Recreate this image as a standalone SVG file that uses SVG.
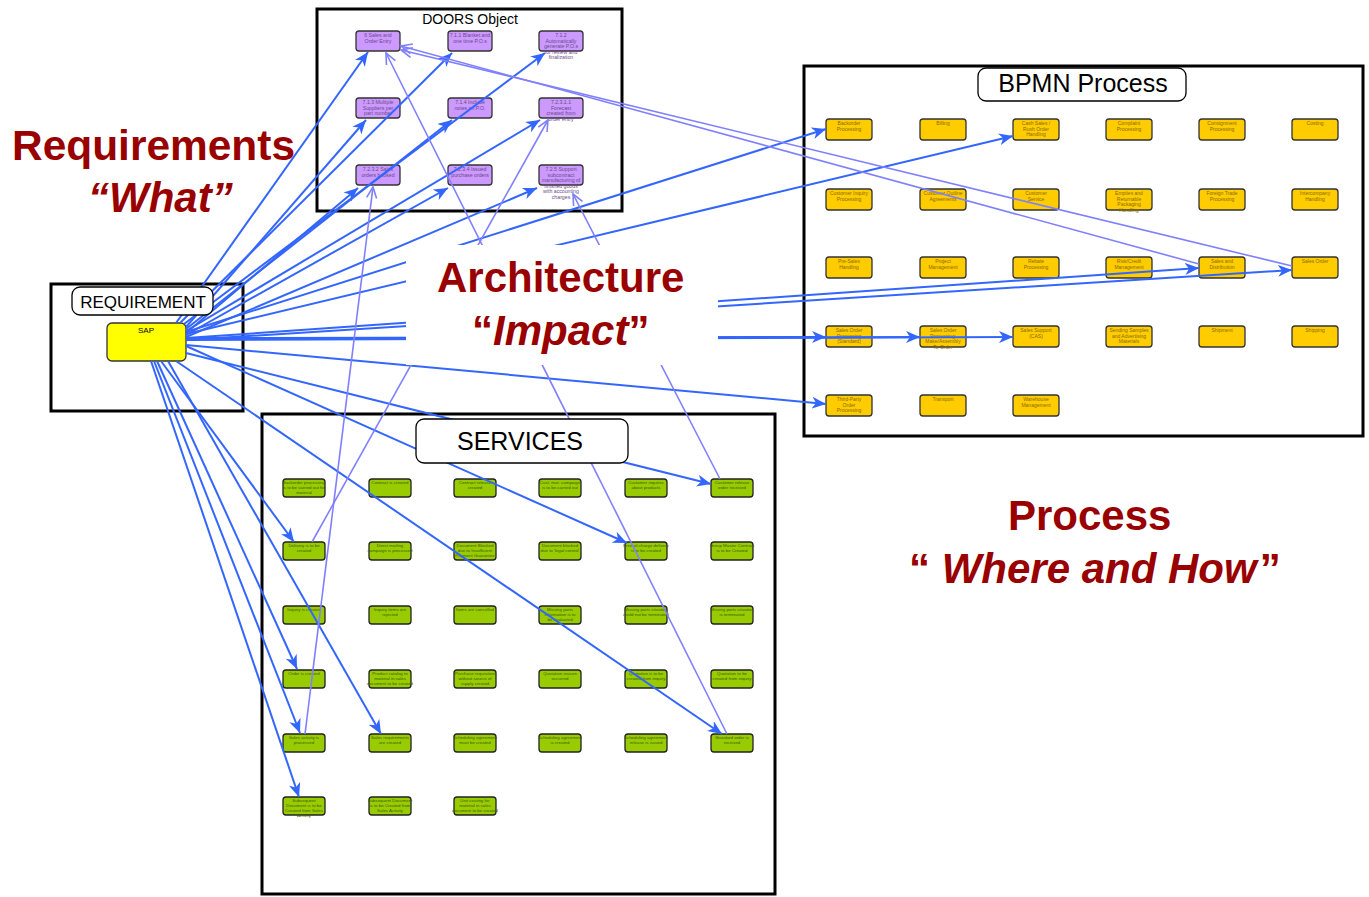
<svg xmlns="http://www.w3.org/2000/svg" width="1369" height="897" viewBox="0 0 1369 897">
<style>
.frame{fill:none;stroke:#000;stroke-width:3}
.title{fill:#fff;stroke:#000;stroke-width:1.3}
.tt{font-family:"Liberation Sans",Arial,sans-serif;fill:#000;text-anchor:middle}
.pn{fill:#CC99FF;stroke:#333;stroke-width:1.3}
.yn{fill:#FFCC00;stroke:#333;stroke-width:1.3}
.gn{fill:#99CC00;stroke:#222;stroke-width:1.3}
.pt{font-family:"Liberation Sans",Arial,sans-serif;font-size:5.2px;fill:#6a4a8a;text-anchor:middle}
.yt{font-family:"Liberation Sans",Arial,sans-serif;font-size:5px;fill:#8a6a00;text-anchor:middle}
.gt{font-family:"Liberation Sans",Arial,sans-serif;font-size:4.4px;fill:#3d5a00;text-anchor:middle}
.blue{fill:none;stroke:#3366FF;stroke-width:2;marker-end:url(#ab)}
.lav{fill:none;stroke:#8080FF;stroke-width:1.6;marker-end:url(#al)}
.big{font-family:"Liberation Sans",Arial,sans-serif;font-weight:bold;font-size:42px;fill:#990000}
</style>
<defs>
<marker id="ab" markerUnits="userSpaceOnUse" markerWidth="16" markerHeight="12" refX="14" refY="6" orient="auto"><path d="M0,0 L14,6 L0,12 L4,6 Z" fill="#3366FF"/></marker>
<marker id="al" markerUnits="userSpaceOnUse" markerWidth="14" markerHeight="12" refX="12" refY="6" orient="auto"><path d="M1,1 L12,6 L1,11" fill="none" stroke="#8080FF" stroke-width="1.6"/></marker>
</defs>
<rect width="1369" height="897" fill="#fff"/>

<!-- containers -->
<g id="doors">
<rect class="frame" x="317" y="9" width="305" height="202"/>
<text class="tt" x="470" y="24" font-size="14">DOORS Object</text>
</g>
<g id="bpmn">
<rect class="frame" x="804" y="66" width="559" height="370"/>
<rect class="title" x="978" y="68" width="208" height="33" rx="8"/>
<text class="tt" x="1083" y="92" font-size="25">BPMN Process</text>
</g>
<g id="requirement">
<rect class="frame" x="51" y="284" width="192" height="127"/>
</g>
<g id="services">
<rect class="frame" x="262" y="414" width="513" height="480"/>
</g>

<!-- SAP -->
<g id="sap">
<rect x="107" y="323" width="79" height="38" rx="5" fill="#FFFF00" stroke="#333" stroke-width="1.3"/>
<text class="tt" x="146" y="333" font-size="8">SAP</text>
</g>

<!-- DOORS nodes -->
<g id="d1"><rect class="pn" x="356" y="31" width="44" height="20" rx="3"/><text class="pt"><tspan x="378" y="37">6 Sales and</tspan><tspan x="378" y="42.5">Order Entry</tspan></text></g>
<g id="d2"><rect class="pn" x="448" y="31" width="44" height="20" rx="3"/><text class="pt"><tspan x="470" y="37">7.1.1 Blanket and</tspan><tspan x="470" y="42.5">one time P.O.s</tspan></text></g>
<g id="d3"><rect class="pn" x="539" y="31" width="44" height="20" rx="3"/><text class="pt"><tspan x="561" y="37">7.1.2</tspan><tspan x="561" y="42.5">Automatically</tspan><tspan x="561" y="48">generate P.O.s</tspan><tspan x="561" y="53.5">for review and</tspan><tspan x="561" y="59">finalization</tspan></text></g>
<g id="d4"><rect class="pn" x="356" y="98" width="44" height="20" rx="3"/><text class="pt"><tspan x="378" y="104">7.1.3 Multiple</tspan><tspan x="378" y="109.5">Suppliers per</tspan><tspan x="378" y="115">part number</tspan></text></g>
<g id="d5"><rect class="pn" x="448" y="98" width="44" height="20" rx="3"/><text class="pt"><tspan x="470" y="104">7.1.4 Include</tspan><tspan x="470" y="109.5">notes on P.O.</tspan></text></g>
<g id="d6"><rect class="pn" x="539" y="98" width="44" height="20" rx="3"/><text class="pt"><tspan x="561" y="104">7.2.3.1.1</tspan><tspan x="561" y="109.5">Forecast</tspan><tspan x="561" y="115">created from</tspan><tspan x="561" y="120.5">order entry</tspan></text></g>
<g id="d7"><rect class="pn" x="356" y="165" width="44" height="20" rx="3"/><text class="pt"><tspan x="378" y="171">7.2.3.2 Sales</tspan><tspan x="378" y="176.5">orders booked</tspan></text></g>
<g id="d8"><rect class="pn" x="448" y="165" width="44" height="20" rx="3"/><text class="pt"><tspan x="470" y="171">7.2.3.4 Issued</tspan><tspan x="470" y="176.5">purchase orders</tspan></text></g>
<g id="d9"><rect class="pn" x="539" y="165" width="44" height="20" rx="3"/><text class="pt"><tspan x="561" y="171">7.2.5 Support</tspan><tspan x="561" y="176.5">subcontract</tspan><tspan x="561" y="182">manufacturing of</tspan><tspan x="561" y="187.5">finished goods</tspan><tspan x="561" y="193">with accounting</tspan><tspan x="561" y="198.5">charges</tspan></text></g>

<!-- BPMN nodes -->
<g id="b1"><rect class="yn" x="826" y="119" width="46" height="21" rx="3"/><text class="yt"><tspan x="849" y="125">Backorder</tspan><tspan x="849" y="130.5">Processing</tspan></text></g>
<g id="b2"><rect class="yn" x="920" y="119" width="46" height="21" rx="3"/><text class="yt"><tspan x="943" y="125">Billing</tspan></text></g>
<g id="b3"><rect class="yn" x="1013" y="119" width="46" height="21" rx="3"/><text class="yt"><tspan x="1036" y="125">Cash Sales /</tspan><tspan x="1036" y="130.5">Rush Order</tspan><tspan x="1036" y="136">Handling</tspan></text></g>
<g id="b4"><rect class="yn" x="1106" y="119" width="46" height="21" rx="3"/><text class="yt"><tspan x="1129" y="125">Complaint</tspan><tspan x="1129" y="130.5">Processing</tspan></text></g>
<g id="b5"><rect class="yn" x="1199" y="119" width="46" height="21" rx="3"/><text class="yt"><tspan x="1222" y="125">Consignment</tspan><tspan x="1222" y="130.5">Processing</tspan></text></g>
<g id="b6"><rect class="yn" x="1292" y="119" width="46" height="21" rx="3"/><text class="yt"><tspan x="1315" y="125">Costing</tspan></text></g>
<g id="b7"><rect class="yn" x="826" y="189" width="46" height="21" rx="3"/><text class="yt"><tspan x="849" y="195">Customer Inquiry</tspan><tspan x="849" y="200.5">Processing</tspan></text></g>
<g id="b8"><rect class="yn" x="920" y="189" width="46" height="21" rx="3"/><text class="yt"><tspan x="943" y="195">Customer Outline</tspan><tspan x="943" y="200.5">Agreements</tspan></text></g>
<g id="b9"><rect class="yn" x="1013" y="189" width="46" height="21" rx="3"/><text class="yt"><tspan x="1036" y="195">Customer</tspan><tspan x="1036" y="200.5">Service</tspan></text></g>
<g id="b10"><rect class="yn" x="1106" y="189" width="46" height="21" rx="3"/><text class="yt"><tspan x="1129" y="195">Empties and</tspan><tspan x="1129" y="200.5">Returnable</tspan><tspan x="1129" y="206">Packaging</tspan><tspan x="1129" y="211.5">Handling</tspan></text></g>
<g id="b11"><rect class="yn" x="1199" y="189" width="46" height="21" rx="3"/><text class="yt"><tspan x="1222" y="195">Foreign Trade</tspan><tspan x="1222" y="200.5">Processing</tspan></text></g>
<g id="b12"><rect class="yn" x="1292" y="189" width="46" height="21" rx="3"/><text class="yt"><tspan x="1315" y="195">Intercompany</tspan><tspan x="1315" y="200.5">Handling</tspan></text></g>
<g id="b13"><rect class="yn" x="826" y="257" width="46" height="21" rx="3"/><text class="yt"><tspan x="849" y="263">Pre-Sales</tspan><tspan x="849" y="268.5">Handling</tspan></text></g>
<g id="b14"><rect class="yn" x="920" y="257" width="46" height="21" rx="3"/><text class="yt"><tspan x="943" y="263">Project</tspan><tspan x="943" y="268.5">Management</tspan></text></g>
<g id="b15"><rect class="yn" x="1013" y="257" width="46" height="21" rx="3"/><text class="yt"><tspan x="1036" y="263">Rebate</tspan><tspan x="1036" y="268.5">Processing</tspan></text></g>
<g id="b16"><rect class="yn" x="1106" y="257" width="46" height="21" rx="3"/><text class="yt"><tspan x="1129" y="263">Risk/Credit</tspan><tspan x="1129" y="268.5">Management</tspan></text></g>
<g id="b17"><rect class="yn" x="1199" y="257" width="46" height="21" rx="3"/><text class="yt"><tspan x="1222" y="263">Sales and</tspan><tspan x="1222" y="268.5">Distribution</tspan></text></g>
<g id="b18"><rect class="yn" x="1292" y="257" width="46" height="21" rx="3"/><text class="yt"><tspan x="1315" y="263">Sales Order</tspan></text></g>
<g id="b19"><rect class="yn" x="826" y="326" width="46" height="21" rx="3"/><text class="yt"><tspan x="849" y="332">Sales Order</tspan><tspan x="849" y="337.5">Processing</tspan><tspan x="849" y="343">(Standard)</tspan></text></g>
<g id="b20"><rect class="yn" x="920" y="326" width="46" height="21" rx="3"/><text class="yt"><tspan x="943" y="332">Sales Order</tspan><tspan x="943" y="337.5">Processing:</tspan><tspan x="943" y="343">Make/Assembly</tspan><tspan x="943" y="348.5">To Order</tspan></text></g>
<g id="b21"><rect class="yn" x="1013" y="326" width="46" height="21" rx="3"/><text class="yt"><tspan x="1036" y="332">Sales Support</tspan><tspan x="1036" y="337.5">(CAS)</tspan></text></g>
<g id="b22"><rect class="yn" x="1106" y="326" width="46" height="21" rx="3"/><text class="yt"><tspan x="1129" y="332">Sending Samples</tspan><tspan x="1129" y="337.5">and Advertising</tspan><tspan x="1129" y="343">Materials</tspan></text></g>
<g id="b23"><rect class="yn" x="1199" y="326" width="46" height="21" rx="3"/><text class="yt"><tspan x="1222" y="332">Shipment</tspan></text></g>
<g id="b24"><rect class="yn" x="1292" y="326" width="46" height="21" rx="3"/><text class="yt"><tspan x="1315" y="332">Shipping</tspan></text></g>
<g id="b25"><rect class="yn" x="826" y="395" width="46" height="21" rx="3"/><text class="yt"><tspan x="849" y="401">Third-Party</tspan><tspan x="849" y="406.5">Order</tspan><tspan x="849" y="412">Processing</tspan></text></g>
<g id="b26"><rect class="yn" x="920" y="395" width="46" height="21" rx="3"/><text class="yt"><tspan x="943" y="401">Transport</tspan></text></g>
<g id="b27"><rect class="yn" x="1013" y="395" width="46" height="21" rx="3"/><text class="yt"><tspan x="1036" y="401">Warehouse</tspan><tspan x="1036" y="406.5">Management</tspan></text></g>

<!-- SERVICES nodes -->
<g id="s1"><rect class="gn" x="283" y="479" width="42" height="18" rx="3"/><text class="gt"><tspan x="304" y="484">Backorder processing</tspan><tspan x="304" y="489">is to be carried out for</tspan><tspan x="304" y="494">material</tspan></text></g>
<g id="s2"><rect class="gn" x="369" y="479" width="42" height="18" rx="3"/><text class="gt"><tspan x="390" y="484">Contract is created</tspan></text></g>
<g id="s3"><rect class="gn" x="454" y="479" width="42" height="18" rx="3"/><text class="gt"><tspan x="475" y="484">Contract release</tspan><tspan x="475" y="489">created</tspan></text></g>
<g id="s4"><rect class="gn" x="539" y="479" width="42" height="18" rx="3"/><text class="gt"><tspan x="560" y="484">Cust. mat. campaign</tspan><tspan x="560" y="489">is to be carried out</tspan></text></g>
<g id="s5"><rect class="gn" x="625" y="479" width="42" height="18" rx="3"/><text class="gt"><tspan x="646" y="484">Customer inquires</tspan><tspan x="646" y="489">about products</tspan></text></g>
<g id="s6"><rect class="gn" x="711" y="479" width="42" height="18" rx="3"/><text class="gt"><tspan x="732" y="484">Customer release</tspan><tspan x="732" y="489">order received</tspan></text></g>
<g id="s7"><rect class="gn" x="283" y="542" width="42" height="18" rx="3"/><text class="gt"><tspan x="304" y="547">Delivery is to be</tspan><tspan x="304" y="552">created</tspan></text></g>
<g id="s8"><rect class="gn" x="369" y="542" width="42" height="18" rx="3"/><text class="gt"><tspan x="390" y="547">Direct mailing</tspan><tspan x="390" y="552">campaign is processed</tspan></text></g>
<g id="s9"><rect class="gn" x="454" y="542" width="42" height="18" rx="3"/><text class="gt"><tspan x="475" y="547">Document Blocked</tspan><tspan x="475" y="552">due to Insufficient</tspan><tspan x="475" y="557">Payment Guarantee</tspan></text></g>
<g id="s10"><rect class="gn" x="539" y="542" width="42" height="18" rx="3"/><text class="gt"><tspan x="560" y="547">Document blocked</tspan><tspan x="560" y="552">due to 'legal control'</tspan></text></g>
<g id="s11"><rect class="gn" x="625" y="542" width="42" height="18" rx="3"/><text class="gt"><tspan x="646" y="547">Free-of-charge delivery</tspan><tspan x="646" y="552">is to be created</tspan></text></g>
<g id="s12"><rect class="gn" x="711" y="542" width="42" height="18" rx="3"/><text class="gt"><tspan x="732" y="547">Group Master Contract</tspan><tspan x="732" y="552">is to be Created</tspan></text></g>
<g id="s13"><rect class="gn" x="283" y="606" width="42" height="18" rx="3"/><text class="gt"><tspan x="304" y="611">Inquiry is created</tspan></text></g>
<g id="s14"><rect class="gn" x="369" y="606" width="42" height="18" rx="3"/><text class="gt"><tspan x="390" y="611">Inquiry items are</tspan><tspan x="390" y="616">rejected</tspan></text></g>
<g id="s15"><rect class="gn" x="454" y="606" width="42" height="18" rx="3"/><text class="gt"><tspan x="475" y="611">Items are cancelled</tspan></text></g>
<g id="s16"><rect class="gn" x="539" y="606" width="42" height="18" rx="3"/><text class="gt"><tspan x="560" y="611">Missing parts</tspan><tspan x="560" y="616">information is to</tspan><tspan x="560" y="621">be evaluated</tspan></text></g>
<g id="s17"><rect class="gn" x="625" y="606" width="42" height="18" rx="3"/><text class="gt"><tspan x="646" y="611">Missing parts situation</tspan><tspan x="646" y="616">could not be terminated</tspan></text></g>
<g id="s18"><rect class="gn" x="711" y="606" width="42" height="18" rx="3"/><text class="gt"><tspan x="732" y="611">Missing parts situation</tspan><tspan x="732" y="616">is terminated</tspan></text></g>
<g id="s19"><rect class="gn" x="283" y="670" width="42" height="18" rx="3"/><text class="gt"><tspan x="304" y="675">Order is created</tspan></text></g>
<g id="s20"><rect class="gn" x="369" y="670" width="42" height="18" rx="3"/><text class="gt"><tspan x="390" y="675">Product catalog to</tspan><tspan x="390" y="680">material in sales</tspan><tspan x="390" y="685">document to be created</tspan></text></g>
<g id="s21"><rect class="gn" x="454" y="670" width="42" height="18" rx="3"/><text class="gt"><tspan x="475" y="675">Purchase requisition</tspan><tspan x="475" y="680">without source of</tspan><tspan x="475" y="685">supply created</tspan></text></g>
<g id="s22"><rect class="gn" x="539" y="670" width="42" height="18" rx="3"/><text class="gt"><tspan x="560" y="675">Quotation reason</tspan><tspan x="560" y="680">occurred</tspan></text></g>
<g id="s23"><rect class="gn" x="625" y="670" width="42" height="18" rx="3"/><text class="gt"><tspan x="646" y="675">Quotation is to be</tspan><tspan x="646" y="680">created from inquiry</tspan></text></g>
<g id="s24"><rect class="gn" x="711" y="670" width="42" height="18" rx="3"/><text class="gt"><tspan x="732" y="675">Quotation to be</tspan><tspan x="732" y="680">created from inquiry</tspan></text></g>
<g id="s25"><rect class="gn" x="283" y="734" width="42" height="18" rx="3"/><text class="gt"><tspan x="304" y="739">Sales activity is</tspan><tspan x="304" y="744">processed</tspan></text></g>
<g id="s26"><rect class="gn" x="369" y="734" width="42" height="18" rx="3"/><text class="gt"><tspan x="390" y="739">Sales requirements</tspan><tspan x="390" y="744">are created</tspan></text></g>
<g id="s27"><rect class="gn" x="454" y="734" width="42" height="18" rx="3"/><text class="gt"><tspan x="475" y="739">Scheduling agreement</tspan><tspan x="475" y="744">must be created</tspan></text></g>
<g id="s28"><rect class="gn" x="539" y="734" width="42" height="18" rx="3"/><text class="gt"><tspan x="560" y="739">Scheduling agreement</tspan><tspan x="560" y="744">is created</tspan></text></g>
<g id="s29"><rect class="gn" x="625" y="734" width="42" height="18" rx="3"/><text class="gt"><tspan x="646" y="739">Scheduling agreement</tspan><tspan x="646" y="744">release is issued</tspan></text></g>
<g id="s30"><rect class="gn" x="711" y="734" width="42" height="18" rx="3"/><text class="gt"><tspan x="732" y="739">Standard order is</tspan><tspan x="732" y="744">received</tspan></text></g>
<g id="s31"><rect class="gn" x="283" y="797" width="42" height="18" rx="3"/><text class="gt"><tspan x="304" y="802">Subsequent</tspan><tspan x="304" y="807">Document is to be</tspan><tspan x="304" y="812">Created from Sales</tspan><tspan x="304" y="817">Activity</tspan></text></g>
<g id="s32"><rect class="gn" x="369" y="797" width="42" height="18" rx="3"/><text class="gt"><tspan x="390" y="802">Subsequent Document</tspan><tspan x="390" y="807">is to be Created from</tspan><tspan x="390" y="812">Sales Activity</tspan></text></g>
<g id="s33"><rect class="gn" x="454" y="797" width="42" height="18" rx="3"/><text class="gt"><tspan x="475" y="802">Unit costing for</tspan><tspan x="475" y="807">material in sales</tspan><tspan x="475" y="812">document to be created</tspan></text></g>

<!-- connectors -->
<g id="connectors">
<path class="blue" d="M176,323 L368,52"/>
<path class="blue" d="M180,323 L452,53"/>
<path class="blue" d="M184,324 L545,53"/>
<path class="blue" d="M186,327 L366,120"/>
<path class="blue" d="M186,329 L452,120"/>
<path class="blue" d="M186,331 L540,120"/>
<path class="blue" d="M186,333 L358,188"/>
<path class="blue" d="M186,335 L448,188"/>
<path class="blue" d="M186,337 L537,188"/>
<path class="blue" d="M186,332 L826,129"/>
<path class="blue" d="M186,334 L1013,136"/>
<path class="blue" d="M186,338 L1199,268"/>
<path class="blue" d="M186,340 L1292,270"/>
<path class="blue" d="M186,338 L826,337"/>
<path class="blue" d="M186,339 L920,337"/>
<path class="blue" d="M186,340 L1013,337"/>
<path class="blue" d="M186,345 L826,404"/>
<path class="blue" d="M186,346 L627,543"/>
<path class="blue" d="M186,353 L711,484"/>
<path class="blue" d="M176,361 L722,734"/>
<path class="blue" d="M168,361 L381,734"/>
<path class="blue" d="M161,361 L294,542"/>
<path class="blue" d="M157,361 L297,669"/>
<path class="blue" d="M154,361 L300,733"/>
<path class="blue" d="M151,361 L299,797"/>
<path class="lav" d="M305,734 L373,187"/>
<path class="lav" d="M312,542 L548,120"/>
<path class="lav" d="M727,734 L386,53"/>
<path class="lav" d="M720,479 L573,194"/>
<path class="lav" d="M1199,264 L401,46"/>
<path class="lav" d="M1292,266 L401,50"/>
</g>

<!-- title boxes drawn above connectors -->
<g id="requirement-title">
<rect class="title" x="72" y="287" width="141" height="28" rx="8"/>
<text class="tt" x="143" y="308" font-size="17">REQUIREMENT</text>
</g>
<g id="services-title">
<rect class="title" x="416" y="419" width="212" height="44" rx="8"/>
<text class="tt" x="520" y="450" font-size="25">SERVICES</text>
</g>

<!-- labels -->
<g id="labels">
<rect x="406" y="245" width="312" height="120" fill="#fff"/>
<text class="big" x="12" y="160" textLength="283" lengthAdjust="spacingAndGlyphs">Requirements</text>
<text class="big" x="88" y="212" font-style="italic">“What”</text>
<text class="big" x="437" y="292">Architecture</text>
<text class="big" x="472" y="345"><tspan>“</tspan><tspan font-style="italic">Impact</tspan><tspan>”</tspan></text>
<text class="big" x="1008" y="530">Process</text>
<text class="big" x="909" y="583" font-size="41"><tspan>“ </tspan><tspan font-style="italic">Where and How</tspan><tspan dx="3">”</tspan></text>
</g>
</svg>
